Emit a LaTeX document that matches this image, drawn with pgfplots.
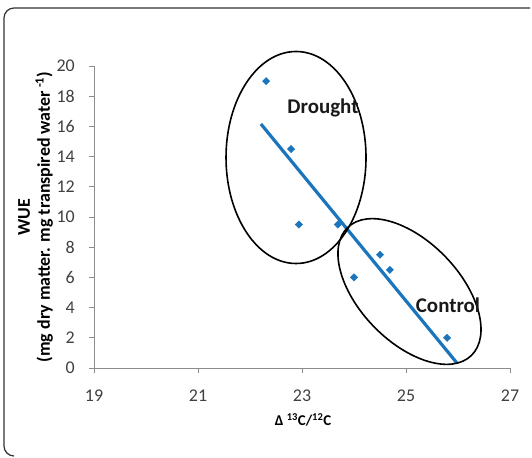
\documentclass[border=0pt]{standalone}
\usepackage{fontspec}
\setmainfont{Carlito}
\usepackage{pgfplots}
\pgfplotsset{compat=1.18}
\definecolor{ptblue}{HTML}{1B75BC}
\definecolor{axgray}{HTML}{8C8C8C}
\definecolor{tickgray}{HTML}{404040}
\begin{document}
\begin{tikzpicture}
\useasboundingbox (0,0) rectangle (532bp,458bp);
\draw[color=black!80, line width=1.2bp, rounded corners=10bp] (530bp,450bp) -- (4bp,450bp) -- (4bp,2bp) -- (14bp,2bp);
\begin{axis}[
  at={(94bp,90bp)}, anchor=south west,
  scale only axis, width=416bp, height=302bp,
  xmin=19, xmax=27, ymin=0, ymax=20,
  xtick={19,21,23,25,27}, ytick={0,2,...,20},
  axis x line=bottom, axis y line=left,
  axis line style={-, axgray, line width=0.9bp},
  tick style={axgray, line width=0.9bp},
  tick align=outside, major tick length=5bp,
  clip=false,
  /pgf/number format/assume math mode=true,
  ticklabel style={font=\fontsize{18}{20}\selectfont, text=tickgray},
  xticklabel style={anchor=center, yshift=-23bp},
  yticklabel style={anchor=east, inner sep=0pt, xshift=-14bp},
  xlabel={Δ \textsuperscript{13}C/\textsuperscript{12}C},
  xlabel style={at={(axis description cs:0.5024,-0.172)}, anchor=center, font=\bfseries\fontsize{15}{18}\selectfont},
  ylabel={WUE\\(mg dry matter. mg transpired water\,\textsuperscript{-1})},
  ylabel style={at={(axis description cs:-0.1406,0.5)}, anchor=center, align=center, font=\bfseries\fontsize{18}{20}\selectfont},
]
\addplot[only marks, mark=square*, mark size=2.6bp, mark options={rotate=45, ptblue}, ptblue]
  coordinates {(22.31,19) (22.79,14.5) (22.94,9.5) (23.69,9.5) (24.0,6.0) (24.5,7.5) (24.69,6.5) (25.79,2.0)};
\addplot[ptblue, line width=3.2bp, no marks] coordinates {(22.21,16.16) (25.975,0.35)};
\draw[black, line width=1.6bp] (axis cs:22.885,13.94) ellipse [x radius=70bp, y radius=106bp];
\draw[black, line width=1.6bp, rotate around={-46:(axis cs:25.067,5.066)}] (axis cs:25.067,5.066) ellipse [x radius=89bp, y radius=50bp];
\node[font=\bfseries\fontsize{21}{24}\selectfont, text=black!90] at (axis cs:23.404,17.22) {Drought};
\node[font=\bfseries\fontsize{21}{24}\selectfont, text=black!90] at (axis cs:25.808,4.17) {Control};
\end{axis}
\end{tikzpicture}
\end{document}
